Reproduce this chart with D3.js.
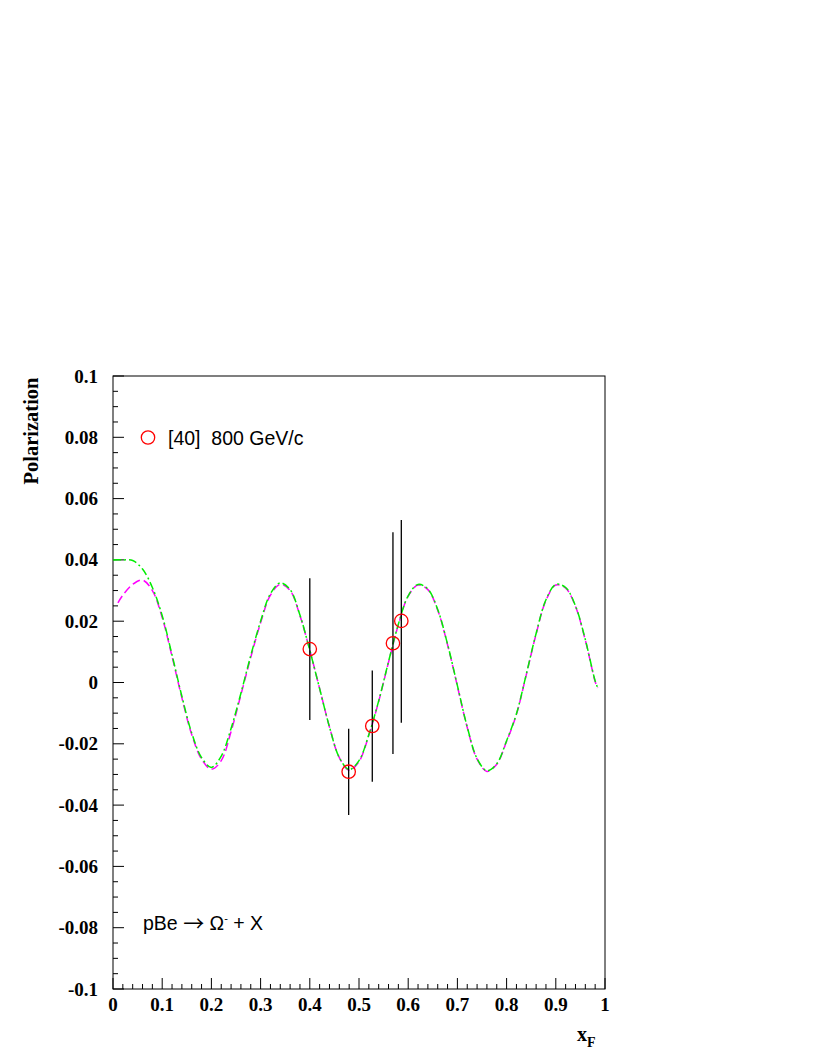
<!DOCTYPE html>
<html>
<head>
<meta charset="utf-8">
<script src="https://cdn.jsdelivr.net/npm/d3@7"></script>
<style>
  body { margin: 0; background: #fff; }
  svg { display: block; }
  .tick-lbl { font-family: "Liberation Serif", "Times New Roman", serif; font-weight: bold; font-size: 19px; }
  .sans { font-family: "Liberation Sans", Arial, sans-serif; font-size: 19.5px; }
</style>
</head>
<body>
<div id="chart"></div>
<script>
// curve sample positions (x_F) and values
var xs = [0, 0.02, 0.04, 0.06, 0.08, 0.10, 0.12, 0.14, 0.16, 0.18,
          0.20, 0.22, 0.24, 0.26, 0.28, 0.30, 0.32, 0.34, 0.36, 0.38,
          0.40, 0.42, 0.44, 0.46, 0.48, 0.50, 0.52, 0.54, 0.56, 0.58,
          0.60, 0.62, 0.64, 0.66, 0.68, 0.70, 0.72, 0.74, 0.76, 0.78,
          0.80, 0.82, 0.84, 0.86, 0.88, 0.90, 0.92, 0.94, 0.96, 0.98, 0.985];

var greenVals = [0.0400, 0.0400, 0.0398, 0.0370, 0.0310, 0.0218, 0.0090, -0.0045, -0.0165, -0.0245,
                 -0.0277, -0.0240, -0.0150, -0.0035, 0.0088, 0.0200, 0.0290, 0.0325, 0.0303, 0.0220,
                 0.0105, -0.0020, -0.0145, -0.0245, -0.0284, -0.0255, -0.0170, -0.0060, 0.0068, 0.0190,
                 0.0283, 0.0320, 0.0305, 0.0238, 0.0125, -0.0010, -0.0145, -0.0248, -0.0288, -0.0265,
                 -0.0190, -0.0102, 0.0027, 0.0160, 0.0270, 0.0320, 0.0310, 0.0250, 0.0140, 0.0005, -0.0016];

var magXs = [0.01, 0.02, 0.04, 0.06, 0.08, 0.10, 0.12, 0.14, 0.16, 0.18,
             0.20, 0.22, 0.24, 0.26, 0.28, 0.30, 0.32, 0.34, 0.36, 0.38,
             0.40, 0.42, 0.44, 0.46, 0.48, 0.50, 0.52, 0.54, 0.56, 0.58,
             0.60, 0.62, 0.64, 0.66, 0.68, 0.70, 0.72, 0.74, 0.76, 0.78,
             0.80, 0.82, 0.84, 0.86, 0.88, 0.90, 0.92, 0.94, 0.96, 0.98, 0.985];

var magentaVals = [0.0260, 0.0285, 0.0320, 0.0334, 0.0300, 0.0212, 0.0085, -0.0050, -0.0170, -0.0250,
                   -0.0283, -0.0255, -0.0160, -0.0040, 0.0082, 0.0195, 0.0285, 0.0320, 0.0300, 0.0218,
                   0.0105, -0.0020, -0.0145, -0.0245, -0.0286, -0.0258, -0.0172, -0.0062, 0.0066, 0.0188,
                   0.0282, 0.0318, 0.0303, 0.0236, 0.0123, -0.0012, -0.0147, -0.0250, -0.0290, -0.0267,
                   -0.0192, -0.0104, 0.0025, 0.0158, 0.0268, 0.0318, 0.0308, 0.0248, 0.0138, 0.0003, -0.0018];

// data points [40] 800 GeV/c
var ptX   = [0.400, 0.479, 0.527, 0.569, 0.586];
var ptY   = [0.0109, -0.0291, -0.0142, 0.0128, 0.0201];
var ptLo  = [-0.0122, -0.0432, -0.0324, -0.0233, -0.0131];
var ptHi  = [0.0340, -0.0151, 0.0039, 0.0490, 0.0530];

var xTicks = [0, 0.1, 0.2, 0.3, 0.4, 0.5, 0.6, 0.7, 0.8, 0.9, 1];
var yTicks = [-0.1, -0.08, -0.06, -0.04, -0.02, 0, 0.02, 0.04, 0.06, 0.08, 0.1];

var width = 817, height = 1058;
var plotL = 113, plotR = 605, plotT = 376, plotB = 989;   // don't use "top", it's window.top

var svg = d3.select("#chart").append("svg").attr("width", width).attr("height", height);

var x = d3.scaleLinear().domain([0, 1]).range([plotL, plotR]);
var y = d3.scaleLinear().domain([-0.1, 0.1]).range([plotB, plotT]);

// ROOT-ish labels: plain hyphen, no trailing zeros
function lbl(d) { return String(+d.toFixed(2)); }

// frame
svg.append("rect")
    .attr("x", plotL).attr("y", plotT)
    .attr("width", plotR - plotL).attr("height", plotB - plotT)
    .attr("fill", "none").attr("stroke", "#000").attr("stroke-width", 1);

// ticks (inside)
var minorX = d3.range(0, 51).map(function(i) { return i * 0.02; });
var minorY = d3.range(0, 41).map(function(i) { return -0.1 + i * 0.005; });

svg.append("g").selectAll("line").data(minorX).enter().append("line")
    .attr("x1", function(d) { return x(d); }).attr("x2", function(d) { return x(d); })
    .attr("y1", plotB)
    .attr("y2", function(d, i) { return i % 5 == 0 ? plotB - 11 : plotB - 5; })
    .attr("stroke", "#000").attr("stroke-width", 1);

svg.append("g").selectAll("line").data(minorY).enter().append("line")
    .attr("y1", function(d) { return y(d); }).attr("y2", function(d) { return y(d); })
    .attr("x1", plotL)
    .attr("x2", function(d, i) { return i % 4 == 0 ? plotL + 11 : plotL + 5; })
    .attr("stroke", "#000").attr("stroke-width", 1);

// tick labels
svg.append("g").selectAll("text").data(xTicks).enter().append("text")
    .attr("class", "tick-lbl")
    .attr("x", function(d) { return x(d); })
    .attr("y", 1011)
    .attr("text-anchor", "middle")
    .text(lbl);

svg.append("g").selectAll("text").data(yTicks).enter().append("text")
    .attr("class", "tick-lbl")
    .attr("x", 98)
    .attr("y", function(d) { return y(d) + 6.5; })
    .attr("text-anchor", "end")
    .text(lbl);

// axis titles
svg.append("text")
    .attr("class", "tick-lbl")
    .attr("transform", "translate(38,431) rotate(-90)")
    .attr("text-anchor", "middle")
    .style("font-size", "20.5px")
    .text("Polarization");

var xt = svg.append("text").attr("class", "tick-lbl").attr("x", 577).attr("y", 1041)
    .style("font-size", "20px");
xt.append("tspan").text("x");
xt.append("tspan").attr("dy", 6).attr("font-size", "14px").text("F");

// curves
var line = d3.line().curve(d3.curveCatmullRom)
    .x(function(d) { return x(d[0]); })
    .y(function(d) { return y(d[1]); });

svg.append("path")
    .datum(d3.zip(magXs, magentaVals))
    .attr("d", line)
    .attr("fill", "none").attr("stroke", "#ff00ff").attr("stroke-width", 1.5)
    .attr("stroke-dasharray", "8,4");

svg.append("path")
    .datum(d3.zip(xs, greenVals))
    .attr("d", line)
    .attr("fill", "none").attr("stroke", "#00ee00").attr("stroke-width", 1.5)
    .attr("stroke-dasharray", "8,3,2,3");

// error bars
var pts = ptX.map(function(d, i) { return {x: d, y: ptY[i], lo: ptLo[i], hi: ptHi[i]}; });

svg.append("g").selectAll("line").data(pts).enter().append("line")
    .attr("x1", function(d) { return x(d.x); }).attr("x2", function(d) { return x(d.x); })
    .attr("y1", function(d) { return y(d.hi); }).attr("y2", function(d) { return y(d.lo); })
    .attr("stroke", "#000").attr("stroke-width", 1.3);

svg.append("g").selectAll("circle").data(pts).enter().append("circle")
    .attr("cx", function(d) { return x(d.x); })
    .attr("cy", function(d) { return y(d.y); })
    .attr("r", 6.7)
    .attr("fill", "none").attr("stroke", "#ff0000").attr("stroke-width", 1.3);

// legend
svg.append("circle")
    .attr("cx", 148).attr("cy", 437.5).attr("r", 6.7)
    .attr("fill", "none").attr("stroke", "#ff0000").attr("stroke-width", 1.3);
svg.append("text").attr("class", "sans")
    .attr("x", 168).attr("y", 444.5)
    .style("white-space", "pre")
    .text("[40]  800 GeV/c");

// reaction label
var rt = svg.append("text").attr("class", "sans").attr("x", 143).attr("y", 930)
    .style("white-space", "pre");
rt.append("tspan").text("pBe ");
rt.append("tspan").attr("font-family", "Noto Sans CJK JP").attr("font-size", "21px").attr("dy", 1).text("\u2192");
rt.append("tspan").attr("dy", -1).text(" \u03A9");
rt.append("tspan").attr("dy", -8).attr("font-size", "11px").text("-");
rt.append("tspan").attr("dy", 8).text(" + X");
</script>
</body>
</html>
